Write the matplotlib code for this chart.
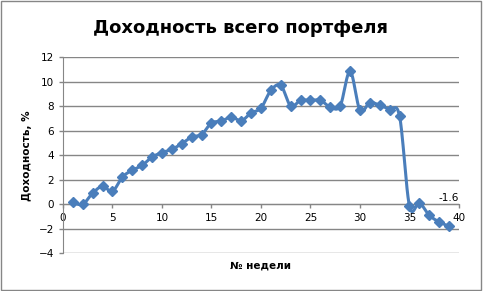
import numpy as np
import matplotlib
matplotlib.use("Agg")
import matplotlib.pyplot as plt
from matplotlib.patches import Rectangle

weeks = list(range(1, 40))
returns = [0.15, 0.0, 0.92, 1.47, 1.06, 2.23, 2.78, 3.18, 3.86, 4.22,
           4.49, 4.95, 5.5, 5.69, 6.64, 6.78, 7.13, 6.82, 7.46, 7.86,
           9.3, 9.71, 8.03, 8.49, 8.49, 8.49, 7.94, 8.03, 10.86, 7.67,
           8.3, 8.08, 7.73, 7.18, -0.16, 0.11, -0.9, -1.44, -1.8]
last_label = "-1.6"

title = "Доходность всего портфеля"
xlabel = "№ недели"
ylabel = "Доходность, %"
xticks = [0, 5, 10, 15, 20, 25, 30, 35, 40]
yticks = [-4, -2, 0, 2, 4, 6, 8, 10, 12]

blue = "#4A7EBB"
grid = "#868686"


def smooth(x, y, n=20, t=0.5):
    # catmull-rom style smoothing, like excel's "smoothed line"
    x = np.asarray(x, float)
    y = np.asarray(y, float)
    px = np.concatenate([[x[0]], x, [x[-1]]])
    py = np.concatenate([[y[0]], y, [y[-1]]])
    xs, ys = [], []
    s = np.linspace(0, 1, n, endpoint=False)
    for i in range(1, len(px) - 2):
        p0, p1, p2, p3 = (np.array([px[j], py[j]]) for j in range(i - 1, i + 3))
        m1 = t * (p2 - p0)
        m2 = t * (p3 - p1)
        h00 = 2 * s**3 - 3 * s**2 + 1
        h10 = s**3 - 2 * s**2 + s
        h01 = -2 * s**3 + 3 * s**2
        h11 = s**3 - s**2
        pts = (np.outer(h00, p1) + np.outer(h10, m1)
               + np.outer(h01, p2) + np.outer(h11, m2))
        xs.extend(pts[:, 0])
        ys.extend(pts[:, 1])
    xs.append(x[-1])
    ys.append(y[-1])
    return np.array(xs), np.array(ys)


plt.rcParams["font.family"] = ["DejaVu Sans"]

fig = plt.figure(figsize=(4.83, 2.91), dpi=100)
ax = fig.add_axes([0.1304, 0.1296, 0.8199, 0.6734])

sx, sy = smooth(weeks, returns)
ax.plot(sx, sy, color=blue, lw=2.2, solid_capstyle="round", zorder=3)
ax.plot(weeks, returns, ls="none", marker="D", ms=5.5, color=blue, zorder=4)

ax.set_xlim(0, 40)
ax.set_ylim(-4, 12)
ax.set_xticks(xticks)
ax.set_yticks(yticks)
ax.yaxis.grid(True, color=grid, lw=1)
ax.set_axisbelow(True)

for s in ["top", "right"]:
    ax.spines[s].set_visible(False)
ax.spines["bottom"].set_position(("data", 0))
ax.spines["bottom"].set_color(grid)
ax.spines["left"].set_color(grid)
ax.tick_params(axis="both", colors=grid, labelcolor="black", labelsize=7.5,
               length=3, width=1, direction="out")

ax.annotate(last_label, (weeks[-1], returns[-1]), xytext=(7, 17),
            textcoords="offset points", ha="right", va="bottom", fontsize=7.5)

fig.text(0.497, 0.905, title, ha="center", va="center", fontsize=13,
         fontweight="bold")
fig.text(0.056, 0.465, ylabel, ha="center", va="center", rotation=90,
         fontsize=7.5, fontweight="bold")
fig.text(0.54, 0.087, xlabel, ha="center", va="center", fontsize=7.5,
         fontweight="bold")

fig.patches.append(Rectangle((0.002, 0.003), 0.994, 0.992,
                             transform=fig.transFigure, fill=False,
                             edgecolor=grid, lw=1))

fig.savefig("out.png", dpi=100)
